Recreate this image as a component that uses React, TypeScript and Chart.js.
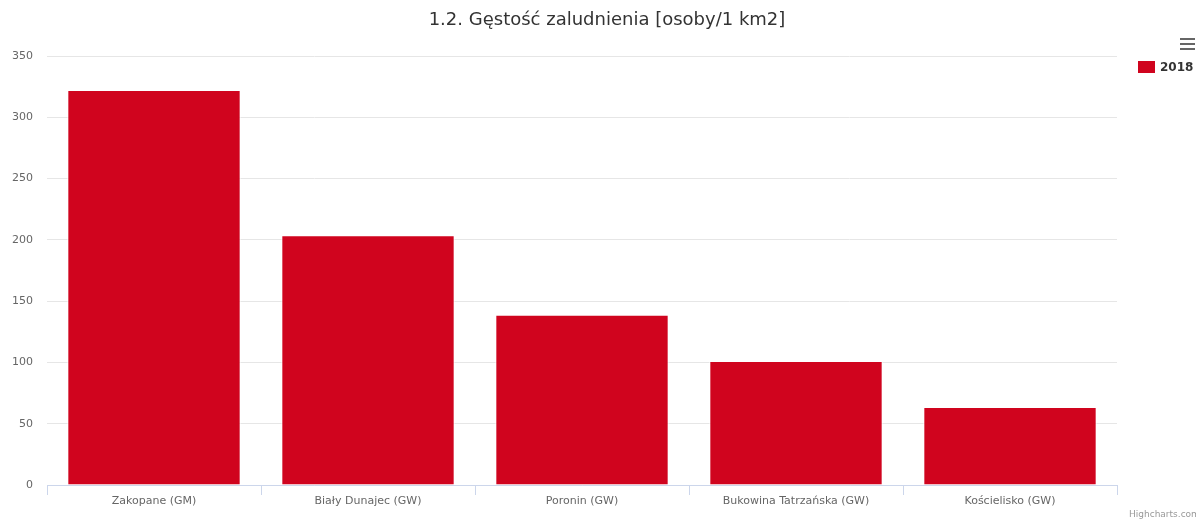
import React, { useEffect, useRef } from "react";
import { Chart, registerables } from "chart.js";

Chart.register(...registerables);

const title = "1.2. Gęstość zaludnienia [osoby/1 km2]";
const categories = [
  "Zakopane (GM)",
  "Biały Dunajec (GW)",
  "Poronin (GW)",
  "Bukowina Tatrzańska (GW)",
  "Kościelisko (GW)",
];
const seriesName = "2018";
const values = [322.2, 203.8, 139.0, 101.2, 63.6];
const yTicks = [0, 50, 100, 150, 200, 250, 300, 350];
const credits = "Highcharts.com";

const FONT = "'DejaVu Sans', 'Lucida Grande', Arial, sans-serif";
const BAR_COLOR = "#d0041e";

const overlayPlugin = {
  id: "overlay",
  afterDraw(chart: any) {
    const ctx = chart.ctx as CanvasRenderingContext2D;
    ctx.save();
    // title
    ctx.fillStyle = "#333333";
    ctx.font = `18px ${FONT}`;
    ctx.textAlign = "center";
    ctx.textBaseline = "middle";
    ctx.fillText(title, 607, 20);
    // hamburger
    ctx.fillStyle = "#666666";
    for (let i = 0; i < 3; i++) {
      ctx.fillRect(1180, 38 + i * 5, 15, 2);
    }
    // legend
    const label = chart.data.datasets[0].label;
    ctx.fillStyle = BAR_COLOR;
    ctx.fillRect(1138, 61, 17, 12);
    ctx.fillStyle = "#333333";
    ctx.font = `bold 12px ${FONT}`;
    ctx.textAlign = "left";
    ctx.textBaseline = "middle";
    ctx.fillText(label, 1160, 67.5);
    // credits
    ctx.fillStyle = "#999999";
    ctx.font = `9px ${FONT}`;
    ctx.textBaseline = "alphabetic";
    ctx.fillText(credits, 1129, 517);
    ctx.restore();
  },
};

export default function App() {
  const ref = useRef<HTMLCanvasElement>(null);
  useEffect(() => {
    document.body.style.margin = "0";
    const chart = new Chart(ref.current!, {
      type: "bar",
      data: {
        labels: categories,
        datasets: [
          {
            label: seriesName,
            data: values,
            backgroundColor: BAR_COLOR,
            borderColor: "#ffffff",
            borderWidth: 1,
            borderSkipped: "start",
            barPercentage: 0.81,
            categoryPercentage: 1,
          },
        ],
      },
      options: {
        animation: false,
        responsive: false,
        maintainAspectRatio: false,
        layout: { padding: { top: 56, right: 79, left: 0, bottom: 0 } },
        plugins: {
          legend: { display: false },
          title: { display: false },
          tooltip: { enabled: false },
        },
        scales: {
          x: {
            offset: true,
            grid: {
              offset: true,
              drawOnChartArea: false,
              drawTicks: true,
              tickLength: 10,
              color: "#ccd6eb",
            },
            border: { display: true, color: "#ccd6eb" },
            ticks: {
              color: "#666666",
              font: { family: FONT, size: 11 },
              padding: 0,
              maxRotation: 0,
              autoSkip: false,
            },
            afterFit(scale: any) {
              scale.height = 34;
            },
          },
          y: {
            min: 0,
            max: 350,
            afterBuildTicks(scale: any) {
              scale.ticks = yTicks.map((v) => ({ value: v }));
            },
            grid: { color: "#e6e6e6", drawTicks: false },
            border: { display: false },
            ticks: {
              color: "#666666",
              font: { family: FONT, size: 11 },
              padding: 14,
            },
            afterFit(scale: any) {
              scale.width = 47;
            },
          },
        },
      },
      plugins: [overlayPlugin],
    });
    return () => chart.destroy();
  }, []);
  return (
    <div style={{ width: 1196, height: 519 }}>
      <canvas ref={ref} width={1196} height={519} style={{ display: "block" }} />
    </div>
  );
}
